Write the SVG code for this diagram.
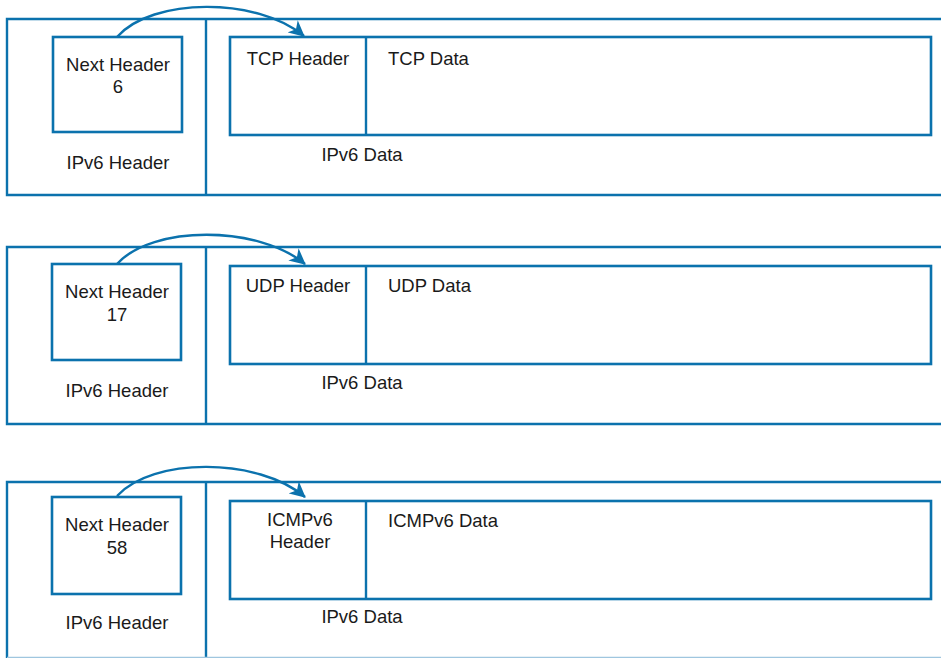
<svg xmlns="http://www.w3.org/2000/svg" width="941" height="658" viewBox="0 0 941 658">
  <style>
    .frame { fill: none; stroke: #0b72ad; stroke-width: 2.4; }
    .box { fill: #ffffff; stroke: #0b72ad; stroke-width: 2.6; }
    .arc { fill: none; stroke: #0b72ad; stroke-width: 2.4; }
    .edge { fill: none; stroke: #9fc6df; stroke-width: 2.4; }
    text { font-family: "Liberation Sans", Arial, sans-serif; font-size: 18.5px; fill: #1a1a1a; }
    .c { text-anchor: middle; }
  </style>
  <defs>
    <marker id="head" markerWidth="18" markerHeight="16" refX="15" refY="8" orient="auto" markerUnits="userSpaceOnUse">
      <path d="M0,0 L16,8 L0,16 L4.5,8 Z" fill="#0b72ad"/>
    </marker>
  </defs>

  <!-- Packet 1: TCP -->
  <g id="packet-tcp">
    <path class="frame" d="M941,19 H7 V195 H941 M206,19 V195"/>
    <g id="nh-tcp">
      <rect class="box" x="53" y="37" width="129" height="95"/>
      <text class="c" x="118" y="71">Next Header</text>
      <text class="c" x="118" y="93">6</text>
    </g>
    <text class="c" x="118" y="169">IPv6 Header</text>
    <g id="data-tcp">
      <rect class="box" x="230" y="37" width="701" height="98"/>
      <line class="frame" x1="366" y1="37" x2="366" y2="135"/>
      <text class="c" x="298" y="65">TCP Header</text>
      <text x="388" y="65">TCP Data</text>
    </g>
    <text class="c" x="362" y="161">IPv6 Data</text>
  </g>

  <!-- Packet 2: UDP -->
  <g id="packet-udp">
    <path class="frame" d="M941,247 H7 V424 H941 M206,247 V424"/>
    <g id="nh-udp">
      <rect class="box" x="52" y="264" width="129" height="96"/>
      <text class="c" x="117" y="298">Next Header</text>
      <text class="c" x="117" y="321">17</text>
    </g>
    <text class="c" x="117" y="397">IPv6 Header</text>
    <g id="data-udp">
      <rect class="box" x="230" y="266" width="701" height="98"/>
      <line class="frame" x1="366" y1="266" x2="366" y2="364"/>
      <text class="c" x="298" y="292">UDP Header</text>
      <text x="388" y="292">UDP Data</text>
    </g>
    <text class="c" x="362" y="389">IPv6 Data</text>
  </g>

  <!-- Packet 3: ICMPv6 (frame bottom sits on the lower edge) -->
  <g id="packet-icmp">
    <path class="frame" d="M941,482 H7 V658 M206,482 V658"/>
    <line class="edge" x1="7" y1="658" x2="941" y2="658"/>
    <g id="nh-icmp">
      <rect class="box" x="52" y="497" width="129" height="97"/>
      <text class="c" x="117" y="531">Next Header</text>
      <text class="c" x="117" y="554">58</text>
    </g>
    <text class="c" x="117" y="629">IPv6 Header</text>
    <g id="data-icmp">
      <rect class="box" x="230" y="501" width="701" height="98"/>
      <line class="frame" x1="366" y1="501" x2="366" y2="599"/>
      <text class="c" x="300" y="526">ICMPv6</text>
      <text class="c" x="300" y="548">Header</text>
      <text x="388" y="527">ICMPv6 Data</text>
    </g>
    <text class="c" x="362" y="623">IPv6 Data</text>
  </g>

  <!-- Next Header pointers -->
  <g id="connectors">
    <path class="arc" d="M117,37 C152,-3 258,-3 304,36" marker-end="url(#head)"/>
    <path class="arc" d="M117,264 C152,225 258,225 305,264" marker-end="url(#head)"/>
    <path class="arc" d="M117,496 C152,457 258,457 305,497" marker-end="url(#head)"/>
  </g>
</svg>
